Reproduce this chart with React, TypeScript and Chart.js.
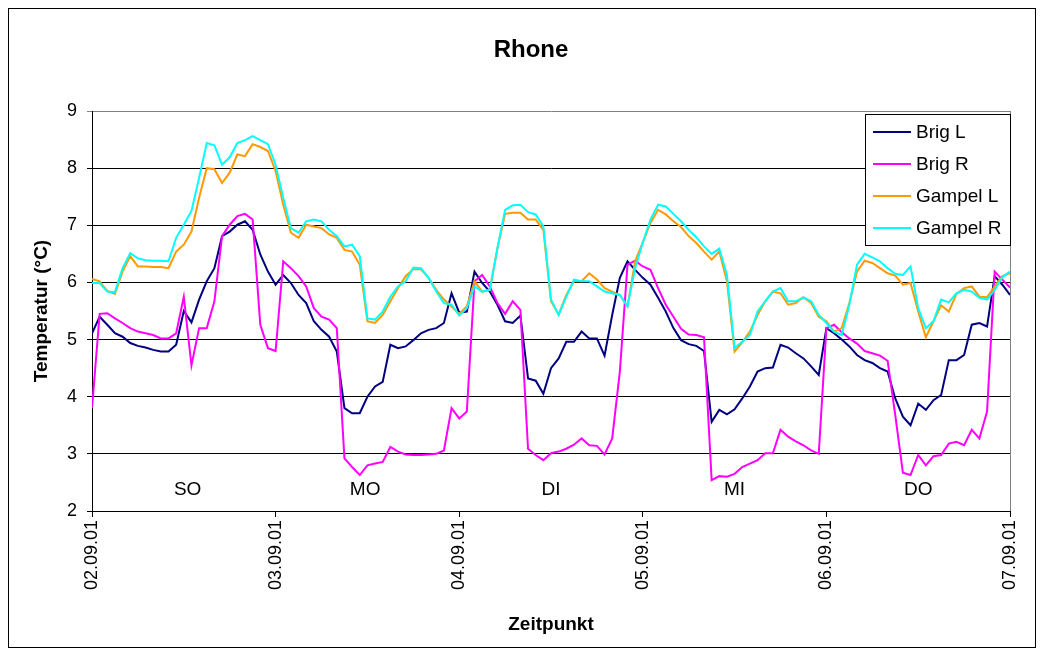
import React, { useEffect, useRef } from 'react';
import { Chart, registerables } from 'chart.js';

Chart.register(...registerables);

const FONT = '"Liberation Sans", Arial, Helvetica, sans-serif';

const chartTitle = 'Rhone';
const xAxisTitle = 'Zeitpunkt';
const yAxisTitle = 'Temperatur (°C)';

// hours since 02.09.01 00:00, hourly readings
const hours = [
  0, 1, 2, 3, 4, 5, 6, 7, 8, 9, 10, 11, 12, 13, 14, 15, 16, 17, 18, 19, 20, 21, 22, 23,
  24, 25, 26, 27, 28, 29, 30, 31, 32, 33, 34, 35, 36, 37, 38, 39, 40, 41, 42, 43, 44, 45, 46, 47,
  48, 49, 50, 51, 52, 53, 54, 55, 56, 57, 58, 59, 60, 61, 62, 63, 64, 65, 66, 67, 68, 69, 70, 71,
  72, 73, 74, 75, 76, 77, 78, 79, 80, 81, 82, 83, 84, 85, 86, 87, 88, 89, 90, 91, 92, 93, 94, 95,
  96, 97, 98, 99, 100, 101, 102, 103, 104, 105, 106, 107, 108, 109, 110, 111, 112, 113, 114, 115, 116, 117, 118, 119,
  120,
];

const tickHours = [0, 24, 48, 72, 96, 120];
const dateLabels = ['02.09.01', '03.09.01', '04.09.01', '05.09.01', '06.09.01', '07.09.01'];

const dayLabels = ['SO', 'MO', 'DI', 'MI', 'DO'];
const dayLabelHours = [12.5, 35.7, 60, 84, 108];
const dayLabelLevel = 2.37;

const seriesNames = ['Brig L', 'Brig R', 'Gampel L', 'Gampel R'];
const seriesColors = ['#000080', '#FF00FF', '#FF9900', '#00FFFF'];

const brigL = [
  5.11, 5.40, 5.26, 5.11, 5.05, 4.94, 4.89, 4.86, 4.82, 4.79, 4.79, 4.91, 5.50, 5.30, 5.70, 6.02, 6.25, 6.81, 6.89, 7.01, 7.07, 6.92, 6.49, 6.19,
  5.96, 6.13, 5.99, 5.78, 5.64, 5.32, 5.17, 5.05, 4.79, 3.80, 3.71, 3.71, 4.00, 4.18, 4.26, 4.91, 4.85, 4.88, 4.99, 5.11, 5.17, 5.20, 5.29, 5.81,
  5.47, 5.49, 6.19, 5.99, 5.84, 5.61, 5.32, 5.29, 5.42, 4.32, 4.28, 4.05, 4.50, 4.67, 4.96, 4.96, 5.14, 5.02, 5.02, 4.72, 5.43, 6.08, 6.37, 6.22,
  6.08, 5.96, 5.73, 5.49, 5.20, 4.99, 4.92, 4.89, 4.80, 3.56, 3.77, 3.69, 3.78, 3.97, 4.18, 4.44, 4.50, 4.51, 4.91, 4.86, 4.76, 4.67, 4.53, 4.38,
  5.20, 5.11, 5.00, 4.88, 4.73, 4.64, 4.59, 4.50, 4.44, 3.97, 3.65, 3.50, 3.88, 3.77, 3.94, 4.03, 4.64, 4.64, 4.73, 5.26, 5.29, 5.23, 6.11, 5.96,
  5.78,
];

const brigR = [
  3.80, 5.45, 5.46, 5.37, 5.29, 5.20, 5.14, 5.11, 5.08, 5.02, 5.02, 5.11, 5.75, 4.55, 5.20, 5.20, 5.67, 6.81, 7.01, 7.16, 7.20, 7.10, 5.26, 4.85,
  4.80, 6.37, 6.25, 6.11, 5.93, 5.55, 5.40, 5.35, 5.20, 2.92, 2.77, 2.63, 2.80, 2.83, 2.86, 3.12, 3.04, 2.99, 2.98, 2.98, 2.99, 3.00, 3.06, 3.80,
  3.62, 3.74, 6.02, 6.13, 5.93, 5.64, 5.45, 5.67, 5.52, 3.09, 2.98, 2.89, 3.01, 3.04, 3.09, 3.16, 3.27, 3.15, 3.14, 2.99, 3.27, 4.44, 6.31, 6.38,
  6.28, 6.22, 5.90, 5.61, 5.40, 5.19, 5.09, 5.08, 5.04, 2.54, 2.61, 2.60, 2.65, 2.77, 2.83, 2.89, 3.01, 3.01, 3.42, 3.30, 3.22, 3.15, 3.06, 3.00,
  5.20, 5.26, 5.13, 5.02, 4.93, 4.80, 4.76, 4.72, 4.63, 3.68, 2.67, 2.63, 2.98, 2.80, 2.96, 2.98, 3.18, 3.21, 3.15, 3.42, 3.27, 3.74, 6.19, 6.05,
  5.91,
];

const gampelL = [
  6.06, 6.02, 5.85, 5.80, 6.19, 6.46, 6.28, 6.28, 6.27, 6.27, 6.25, 6.54, 6.66, 6.89, 7.48, 8.00, 7.98, 7.74, 7.92, 8.24, 8.21, 8.42, 8.37, 8.30,
  7.95, 7.36, 6.87, 6.78, 7.01, 6.98, 6.95, 6.84, 6.78, 6.57, 6.54, 6.31, 5.32, 5.29, 5.43, 5.67, 5.90, 6.11, 6.23, 6.23, 6.08, 5.87, 5.70, 5.58,
  5.45, 5.58, 6.02, 5.84, 5.87, 6.60, 7.20, 7.22, 7.22, 7.10, 7.10, 6.92, 5.67, 5.44, 5.78, 6.02, 6.02, 6.16, 6.05, 5.90, 5.84, 5.78, 5.58, 6.37,
  6.70, 7.04, 7.27, 7.19, 7.07, 6.97, 6.81, 6.69, 6.54, 6.40, 6.54, 6.02, 4.79, 4.95, 5.14, 5.43, 5.67, 5.84, 5.81, 5.61, 5.64, 5.74, 5.64, 5.40,
  5.32, 5.14, 5.20, 5.64, 6.19, 6.38, 6.34, 6.25, 6.16, 6.12, 5.96, 5.99, 5.49, 5.04, 5.32, 5.60, 5.49, 5.80, 5.90, 5.93, 5.75, 5.74, 5.93, 6.11,
  6.16,
];

const gampelR = [
  5.99, 5.99, 5.84, 5.83, 6.25, 6.51, 6.42, 6.39, 6.38, 6.38, 6.37, 6.78, 7.01, 7.25, 7.83, 8.44, 8.40, 8.06, 8.19, 8.44, 8.49, 8.56, 8.49, 8.42,
  8.06, 7.48, 6.95, 6.87, 7.07, 7.10, 7.07, 6.92, 6.81, 6.63, 6.66, 6.46, 5.37, 5.35, 5.49, 5.75, 5.93, 6.02, 6.26, 6.25, 6.08, 5.84, 5.64, 5.61,
  5.42, 5.55, 5.93, 5.84, 5.87, 6.60, 7.27, 7.35, 7.36, 7.23, 7.19, 6.98, 5.70, 5.43, 5.75, 6.05, 6.02, 6.02, 5.93, 5.84, 5.81, 5.78, 5.58, 6.25,
  6.70, 7.10, 7.36, 7.33, 7.20, 7.07, 6.92, 6.79, 6.63, 6.50, 6.59, 6.13, 4.85, 4.96, 5.08, 5.49, 5.67, 5.84, 5.90, 5.67, 5.67, 5.74, 5.67, 5.43,
  5.29, 5.14, 5.08, 5.61, 6.31, 6.50, 6.44, 6.37, 6.25, 6.15, 6.13, 6.28, 5.55, 5.20, 5.32, 5.70, 5.65, 5.81, 5.87, 5.84, 5.73, 5.70, 5.87, 6.09,
  6.19,
];

const seriesValues = [brigL, brigR, gampelL, gampelR];

const decorPlugin = {
  id: 'decor',
  beforeDatasetsDraw(chart: any) {
    const { ctx, chartArea } = chart;
    ctx.save();
    ctx.strokeStyle = '#808080';
    ctx.lineWidth = 1;
    ctx.beginPath();
    ctx.moveTo(Math.round(chartArea.right) + 0.5, chartArea.top);
    ctx.lineTo(Math.round(chartArea.right) + 0.5, chartArea.bottom);
    ctx.stroke();
    ctx.restore();
  },
  afterDatasetsDraw(chart: any) {
    const { ctx, chartArea, scales } = chart;
    ctx.save();
    // day labels
    ctx.fillStyle = '#000';
    ctx.font = `19px ${FONT}`;
    ctx.textAlign = 'center';
    ctx.textBaseline = 'middle';
    dayLabels.forEach((t, i) => {
      ctx.fillText(t, scales.x.getPixelForValue(dayLabelHours[i]), scales.y.getPixelForValue(dayLabelLevel));
    });

    // legend box
    const lx = Math.round(chartArea.right) - 145;
    const ly = Math.round(chartArea.top) + 3;
    const lw = 145;
    const lh = 131;
    ctx.fillStyle = '#fff';
    ctx.fillRect(lx, ly, lw, lh);
    ctx.strokeStyle = '#000';
    ctx.lineWidth = 1;
    ctx.strokeRect(lx + 0.5, ly + 0.5, lw, lh);
    ctx.font = `19px ${FONT}`;
    ctx.textAlign = 'left';
    ctx.textBaseline = 'middle';
    seriesNames.forEach((name, i) => {
      const yy = ly + 18 + i * 32;
      ctx.strokeStyle = seriesColors[i];
      ctx.lineWidth = 2;
      ctx.beginPath();
      ctx.moveTo(lx + 8, yy);
      ctx.lineTo(lx + 46, yy);
      ctx.stroke();
      ctx.fillStyle = '#000';
      ctx.fillText(name, lx + 51, yy + 1);
    });
    ctx.restore();
  },
  afterDraw(chart: any) {
    const { ctx, chartArea } = chart;
    ctx.save();
    ctx.fillStyle = '#000';
    ctx.textAlign = 'center';
    ctx.textBaseline = 'middle';
    ctx.font = `bold 24px ${FONT}`;
    ctx.fillText(chartTitle, 522, 41);
    ctx.font = `bold 19px ${FONT}`;
    ctx.fillText(xAxisTitle, (chartArea.left + chartArea.right) / 2, 616);
    ctx.translate(33, (chartArea.top + chartArea.bottom) / 2);
    ctx.rotate(-Math.PI / 2);
    ctx.fillText(yAxisTitle, 0, 0);
    ctx.restore();
  },
};

export default function App() {
  const canvasRef = useRef<HTMLCanvasElement | null>(null);

  useEffect(() => {
    const canvas = canvasRef.current;
    if (!canvas) return;
    const datasets = seriesNames.map((name, i) => ({
      label: name,
      data: hours.map((h, j) => ({ x: h, y: seriesValues[i][j] })),
      borderColor: seriesColors[i],
      backgroundColor: seriesColors[i],
      borderWidth: 2,
      pointRadius: 0,
      tension: 0,
      fill: false,
      order: 4 - i,
    }));
    const chart = new Chart(canvas, {
      type: 'line',
      data: { datasets },
      plugins: [decorPlugin],
      options: {
        responsive: false,
        animation: false,
        devicePixelRatio: 1,
        layout: { padding: { top: 102, right: 25, left: 0, bottom: 0 } },
        plugins: {
          legend: { display: false },
          title: { display: false },
          tooltip: { enabled: false },
        },
        scales: {
          x: {
            type: 'linear',
            min: 0,
            max: 120,
            afterBuildTicks: (s: any) => {
              s.ticks = tickHours.map((v) => ({ value: v }));
            },
            ticks: {
              autoSkip: false,
              minRotation: 90,
              maxRotation: 90,
              padding: 3,
              color: '#000',
              font: { size: 18, family: FONT },
              callback: (v: any) => {
                const k = tickHours.indexOf(Number(v));
                return k >= 0 ? dateLabels[k] : '';
              },
            },
            grid: { drawOnChartArea: false, drawTicks: true, tickLength: 6, color: '#000' },
            border: { display: true, color: '#000', width: 1 },
            afterFit: (s: any) => {
              s.height = 136;
              s.paddingLeft = 0;
              s.paddingRight = 0;
            },
          },
          y: {
            min: 2,
            max: 9,
            ticks: {
              stepSize: 1,
              padding: 10,
              color: '#000',
              font: { size: 18, family: FONT },
            },
            grid: {
              color: (c: any) => (c.tick && c.tick.value === 9 ? '#808080' : '#000'),
              tickLength: 5,
              lineWidth: 1,
            },
            border: { display: true, color: '#000', width: 1 },
            afterFit: (s: any) => {
              s.width = 83;
            },
          },
        },
      } as any,
    });
    return () => chart.destroy();
  }, []);

  return (
    <div
      style={{
        width: 1028,
        height: 640,
        border: '1px solid #000',
        boxSizing: 'border-box',
        background: '#fff',
      }}
    >
      <canvas ref={canvasRef} width={1026} height={638} style={{ display: 'block', width: 1026, height: 638 }} />
    </div>
  );
}
